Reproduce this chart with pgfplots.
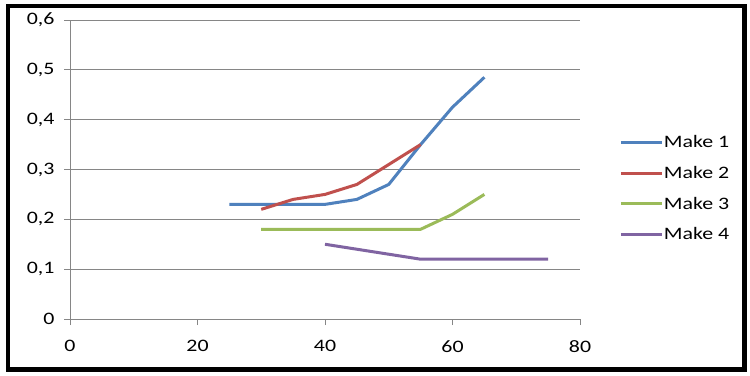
\documentclass[border=0pt]{standalone}
\usepackage{fontspec}
\setmainfont{Carlito}[FakeStretch=1.25]
\usepackage{pgfplots}
\pgfplotsset{compat=1.18}
\definecolor{m1}{HTML}{4F81BD}
\definecolor{m2}{HTML}{C0504D}
\definecolor{m3}{HTML}{9BBB59}
\definecolor{m4}{HTML}{8064A2}
\definecolor{axgray}{HTML}{868686}
\begin{document}
\begin{tikzpicture}
\useasboundingbox (0,0) rectangle (750bp,376bp);
\fill[white] (0,0) rectangle (750bp,376bp);
\begin{axis}[
  at={(70bp,57bp)}, anchor=south west,
  scale only axis, width=510bp, height=299bp,
  xmin=0, xmax=80, ymin=0, ymax=0.6,
  xtick={0,20,40,60,80},
  ytick={0,0.1,0.2,0.3,0.4,0.5,0.6},
  axis lines*=left,
  axis line style={axgray, line width=0.8bp},
  every tick/.style={axgray, line width=0.8bp},
  major tick length=6bp,
  tick align=outside,
  ymajorgrids,
  grid style={axgray, line width=0.8bp},
  tick label style={font=\fontsize{17.5bp}{20bp}\selectfont, text=black},
  /pgf/number format/assume math mode=true,
  /pgf/number format/use comma,
  yticklabel style={/pgf/number format/fixed, /pgf/number format/precision=1, xshift=-6bp},
  xticklabel style={yshift=-12bp},
  legend style={at={(1.077,0.436)}, anchor=west, draw=none, fill=none, inner sep=0pt,
    font=\fontsize{17.5bp}{20bp}\selectfont, row sep=16bp,
    nodes={inner sep=0.5bp}},
  legend cell align=left,
  legend image code/.code={\draw[#1, line width=3bp] (0bp,0bp) -- (41bp,0bp);},
]
\addplot[m1, line width=3bp, line join=round] coordinates {(25,0.23) (30,0.23) (35,0.23) (40,0.23) (45,0.24) (50,0.27) (55,0.35) (60,0.425) (65,0.485)};
\addplot[m2, line width=3bp, line join=round] coordinates {(30,0.22) (35,0.24) (40,0.25) (45,0.27) (50,0.31) (55,0.35)};
\addplot[m3, line width=3bp, line join=round] coordinates {(30,0.18) (35,0.18) (40,0.18) (45,0.18) (50,0.18) (55,0.18) (60,0.21) (65,0.25)};
\addplot[m4, line width=3bp, line join=round] coordinates {(40,0.15) (45,0.14) (50,0.13) (55,0.12) (60,0.12) (65,0.12) (70,0.12) (75,0.12)};
\legend{Make 1, Make 2, Make 3, Make 4}
\end{axis}
\draw[black, line width=4.5bp] (8bp,6.5bp) rectangle (744.5bp,370bp);
\end{tikzpicture}
\end{document}
